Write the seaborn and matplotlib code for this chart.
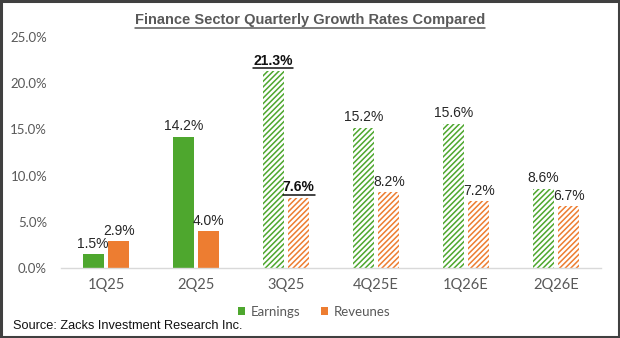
import matplotlib
matplotlib.use("Agg")
import matplotlib.pyplot as plt
import seaborn as sns
import pandas as pd
from matplotlib.patches import Patch, Rectangle
from matplotlib.lines import Line2D

quarters = ["1Q25", "2Q25", "3Q25", "4Q25E", "1Q26E", "2Q26E"]
earnings = [1.5, 14.2, 21.3, 15.2, 15.6, 8.6]
revenues = [2.9, 4.0, 7.6, 8.2, 7.2, 6.7]
series_names = ["Earnings", "Reveunes"]
estimate_flags = [False, False, True, True, True, True]
highlight_quarter = "3Q25"
yticks = [0, 5, 10, 15, 20, 25]
title = "Finance Sector Quarterly Growth Rates Compared"
source = "Source: Zacks Investment Research Inc."

GREEN = "#4EA72E"
ORANGE = "#ED7D31"
GRAY = "#595959"

sns.set_theme(style="white")
plt.rcParams["hatch.linewidth"] = 1.1

df = pd.DataFrame({
    "Quarter": quarters * 2,
    "Series": [series_names[0]] * len(quarters) + [series_names[1]] * len(quarters),
    "Value": earnings + revenues,
})

fig = plt.figure(figsize=(6.2, 3.38), dpi=100)
ax = fig.add_axes([61 / 620, 1 - 268 / 338, 540 / 620, 231 / 338])
sns.barplot(data=df, x="Quarter", y="Value", hue="Series", order=quarters,
            hue_order=series_names, palette=[GREEN, ORANGE], width=0.567,
            gap=0.18, saturation=1, legend=False, ax=ax, errorbar=None)

ax.set_ylim(0, 25)
ax.set_xlim(-0.5, len(quarters) - 0.5)
ax.set_yticks(yticks)
ax.set_yticklabels([f"{v:.1f}%" for v in yticks], fontfamily="Lato",
                   fontsize=9.5, color=GRAY)
ax.set_xticks(range(len(quarters)))
ax.set_xticklabels(quarters, fontfamily="Lato", fontsize=10.5, color=GRAY)
ax.tick_params(axis="both", length=0)
ax.tick_params(axis="y", pad=10)
ax.tick_params(axis="x", pad=7)
ax.set_xlabel("")
ax.set_ylabel("")
for s in ["top", "right", "left"]:
    ax.spines[s].set_visible(False)
ax.spines["bottom"].set_color("#D9D9D9")
ax.spines["bottom"].set_linewidth(1)

underline_texts = []
colors = [GREEN, ORANGE]
vals = [earnings, revenues]
for si, cont in enumerate(ax.containers):
    for qi, bar in enumerate(cont):
        c = colors[si]
        if estimate_flags[qi]:
            bar.set_facecolor("white")
            bar.set_edgecolor(c)
            bar.set_hatch("//////")
            bar.set_linewidth(0)
        else:
            bar.set_facecolor(c)
            bar.set_edgecolor(c)
            bar.set_linewidth(0)
        v = vals[si][qi]
        x = bar.get_x() + bar.get_width() / 2
        hl = quarters[qi] == highlight_quarter
        t = ax.annotate(f"{v:.1f}%", (x, v), xytext=(0, 2.5), textcoords="offset points",
                        ha="center", va="bottom", fontsize=10,
                        fontfamily="Liberation Sans",
                        fontweight="bold" if hl else "normal",
                        color="#111111" if hl else "#262626")
        if hl:
            underline_texts.append((t, "#111111"))

ttl = fig.text(310 / 620, 1 - 20 / 338, title, ha="center", va="center",
               fontsize=10.5, fontweight="bold", color=GRAY, fontfamily="Liberation Sans")
underline_texts.append((ttl, GRAY))

handles = [Patch(facecolor=GREEN, edgecolor="none"), Patch(facecolor=ORANGE, edgecolor="none")]
leg = fig.legend(handles, series_names, loc="center", bbox_to_anchor=(314 / 620, 1 - 312 / 338),
                 ncol=2, frameon=False, handlelength=0.55, handleheight=0.55,
                 handletextpad=0.4, columnspacing=1.6,
                 prop={"family": "Lato", "size": 9.5})
for t in leg.get_texts():
    t.set_color(GRAY)

fig.text(13 / 620, 1 - 326 / 338, source, ha="left", va="center", fontsize=9.2,
         fontfamily=["Liberation Sans Narrow", "Liberation Sans"], color="#111111")

fig.patches.append(Rectangle((0.0015, 0.003), 0.997, 0.994, transform=fig.transFigure,
                             fill=False, edgecolor="#404040", linewidth=2.2))

fig.canvas.draw()
r = fig.canvas.get_renderer()
W, H = fig.bbox.width, fig.bbox.height
for t, c in underline_texts:
    bb = t.get_window_extent(r)
    y = bb.y0 - 0.5
    fig.add_artist(Line2D([bb.x0 / W, bb.x1 / W], [y / H, y / H],
                          transform=fig.transFigure, color=c, linewidth=1.1))

fig.savefig("out.png", dpi=100)
